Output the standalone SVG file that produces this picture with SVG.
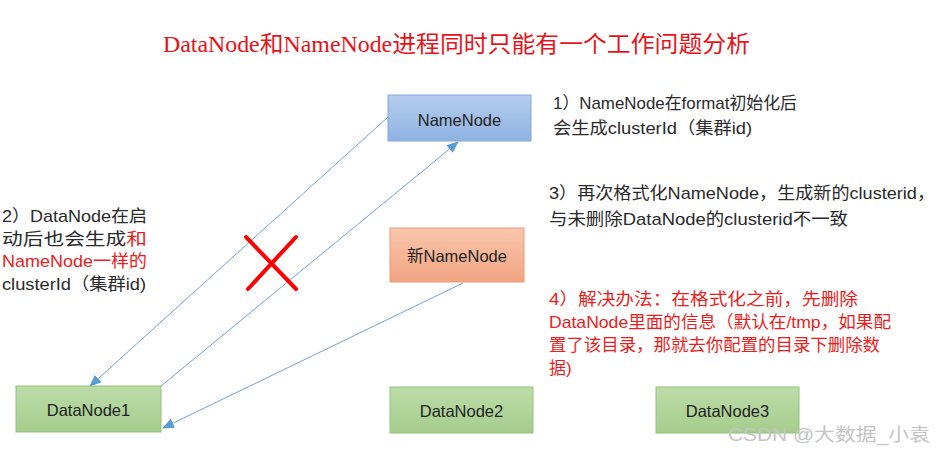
<svg xmlns="http://www.w3.org/2000/svg" width="944" height="468" viewBox="0 0 944 468">
<defs>
<linearGradient id="gBlue" x1="0" y1="0" x2="0" y2="1"><stop offset="0" stop-color="#b4cdee"/><stop offset="1" stop-color="#8fb2e2"/></linearGradient>
<linearGradient id="gOrange" x1="0" y1="0" x2="0" y2="1"><stop offset="0" stop-color="#f9c6ac"/><stop offset="1" stop-color="#f2a481"/></linearGradient>
<linearGradient id="gGreen" x1="0" y1="0" x2="0" y2="1"><stop offset="0" stop-color="#bcdca8"/><stop offset="1" stop-color="#a5cd8d"/></linearGradient>
<marker id="arr" markerUnits="userSpaceOnUse" markerWidth="12" markerHeight="10" viewBox="0 0 12 10" refX="11" refY="5" orient="auto"><path d="M0,0 L12,5 L0,10 z" fill="#5b9bd5"/></marker>
<style>
.t{font-family:"Liberation Sans","Noto Sans CJK SC",sans-serif;font-size:17px;fill:#2a2a2a}
.r{fill:#ee1c1c}
.lbl{font-family:"Liberation Sans","Noto Sans CJK SC",sans-serif;font-size:16.5px;fill:#222;text-anchor:middle}
.conn{stroke:#6fa3d8;stroke-width:1;fill:none;marker-end:url(#arr)}
</style>
</defs>
<rect width="944" height="468" fill="#fff"/>
<text x="163" y="52" textLength="587" lengthAdjust="spacingAndGlyphs" style="font-family:'Liberation Serif','Noto Sans CJK SC',serif;font-size:23px;fill:#e8121a">DataNode和NameNode进程同时只能有一个工作问题分析</text>

<g id="connectors">
<line class="conn" x1="388" y1="117" x2="90" y2="386"/>
<line class="conn" x1="161" y1="386" x2="458" y2="142"/>
<line class="conn" x1="463" y1="283" x2="163" y2="428"/>
</g>

<g id="cross" stroke="#ff0000" stroke-width="4" stroke-linecap="round">
<line x1="246" y1="237" x2="296" y2="289"/>
<line x1="296" y1="237" x2="248" y2="289"/>
</g>

<g id="namenode"><rect x="388" y="95" width="143" height="46" fill="url(#gBlue)" stroke="#84a8da"/><text class="lbl" x="459.5" y="126">NameNode</text></g>
<g id="newnamenode"><rect x="390" y="228" width="134" height="54" fill="url(#gOrange)" stroke="#eb9a74"/><text class="lbl" x="457" y="262">新NameNode</text></g>
<g id="datanode1"><rect x="16" y="386" width="145" height="46" fill="url(#gGreen)" stroke="#93c27a"/><text class="lbl" x="88.5" y="416">DataNode1</text></g>
<g id="datanode2"><rect x="390" y="387" width="143" height="46" fill="url(#gGreen)" stroke="#93c27a"/><text class="lbl" x="461.5" y="417">DataNode2</text></g>
<g id="datanode3"><rect x="656" y="387" width="143" height="46" fill="url(#gGreen)" stroke="#93c27a"/><text class="lbl" x="727.5" y="417">DataNode3</text></g>

<g id="note1">
<text class="t" x="553" y="109" textLength="244" lengthAdjust="spacingAndGlyphs">1）NameNode在format初始化后</text>
<text class="t" x="553" y="134" textLength="199" lengthAdjust="spacingAndGlyphs">会生成clusterId（集群id)</text>
</g>
<g id="note2">
<text class="t" x="2" y="222" textLength="145" lengthAdjust="spacingAndGlyphs">2）DataNode在启</text>
<text class="t" x="2" y="245" textLength="145" lengthAdjust="spacingAndGlyphs">动后也会生成<tspan class="r">和</tspan></text>
<text class="t r" x="2" y="267" textLength="145" lengthAdjust="spacingAndGlyphs">NameNode一样的</text>
<text class="t" x="2" y="290" textLength="144" lengthAdjust="spacingAndGlyphs">clusterId（集群id)</text>
</g>
<g id="note3">
<text class="t" x="549" y="199" textLength="386" lengthAdjust="spacingAndGlyphs">3）再次格式化NameNode，生成新的clusterid，</text>
<text class="t" x="549" y="225" textLength="299" lengthAdjust="spacingAndGlyphs">与未删除DataNode的clusterid不一致</text>
</g>
<g id="note4">
<text class="t r" x="549" y="305" textLength="309" lengthAdjust="spacingAndGlyphs">4）解决办法：在格式化之前，先删除</text>
<text class="t r" x="549" y="328" textLength="342" lengthAdjust="spacingAndGlyphs">DataNode里面的信息（默认在/tmp，如果配</text>
<text class="t r" x="549" y="351" textLength="331" lengthAdjust="spacingAndGlyphs">置了该目录，那就去你配置的目录下删除数</text>
<text class="t r" x="549" y="374">据)</text>
</g>
<text x="728" y="441" textLength="202" lengthAdjust="spacingAndGlyphs" style="font-family:'Liberation Sans','Noto Sans CJK SC',sans-serif;font-size:18px;fill:#c4c4c4">CSDN @大数据_小袁</text>
</svg>
